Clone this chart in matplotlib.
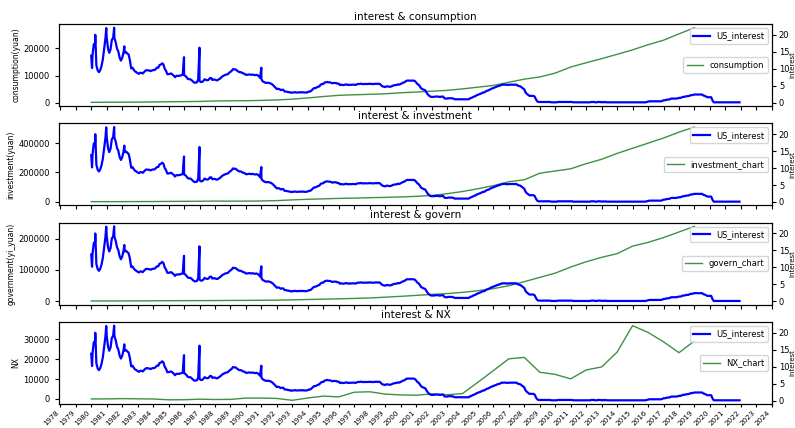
import matplotlib.pyplot as plt
import matplotlib.dates as mdates
from matplotlib.ticker import MultipleLocator
import pandas as pd

# annual China series (yuan / yi yuan), 1980..2019
years = list(range(1980, 2020))
consumption = [238, 264, 288, 316, 361, 446, 497, 565, 714, 788,
               833, 932, 1116, 1393, 1833, 2355, 2789, 3002, 3159, 3346,
               3721, 3987, 4301, 4606, 5138, 5771, 6416, 7572, 8707, 9514,
               10919, 13134, 14699, 16190, 17778, 19397, 21285, 22935, 25245, 27504]
investment = [900, 960, 1200, 1400, 1800, 2500, 3100, 3800, 4700, 4400,
              4500, 5600, 8000, 13000, 17000, 20000, 23000, 25000, 28000, 30000,
              33000, 37000, 43000, 55000, 70000, 89000, 110000, 137000, 150000, 195000,
              210000, 225000, 260000, 290000, 330000, 365000, 400000, 435000, 475000, 510000]
govern = [1229, 1138, 1230, 1410, 1701, 2004, 2205, 2262, 2491, 2824,
          3084, 3387, 3742, 4642, 5793, 6824, 7938, 9234, 10798, 13188,
          15887, 18903, 22053, 24650, 28487, 33930, 40423, 49781, 62593, 76300,
          89874, 109248, 125953, 140212, 151786, 175878, 187755, 203085, 220904, 238858]
nx = [-19, 0, 148, 52, -40, -449, -416, -142, -288, -243,
      411, 428, 233, -701, 461, 1403, 1019, 3354, 3597, 2423,
      1996, 1865, 2518, 2092, 2668, 8374, 14218, 20171, 20868, 13411,
      12323, 10079, 14558, 16094, 23526, 36831, 33452, 28716, 23248, 29150]

# US interest rate, monthly, 1980-01 .. 2021-12
us_interest = [
    13.8, 14.1, 17.2, 17.6, 11.0, 9.5, 9.0, 9.6, 10.9, 12.8, 15.9, 18.9,   # 1980
    19.1, 15.9, 14.7, 15.7, 18.5, 19.1, 19.0, 17.8, 15.9, 15.1, 13.3, 12.4,  # 1981
    13.2, 14.8, 14.7, 14.9, 14.5, 14.2, 12.6, 10.1, 10.3, 9.7, 9.2, 9.0,     # 1982
    8.7, 8.5, 8.8, 8.8, 8.6, 9.0, 9.4, 9.6, 9.5, 9.5, 9.3, 9.5,              # 1983
    9.6, 9.6, 9.9, 10.3, 10.3, 11.1, 11.2, 11.6, 11.3, 10.0, 9.4, 8.4,       # 1984
    8.4, 8.5, 8.6, 8.3, 8.0, 7.5, 7.9, 7.9, 7.9, 8.0, 8.1, 8.3,              # 1985
    8.1, 7.9, 7.5, 7.0, 6.9, 6.9, 6.6, 6.2, 5.9, 5.9, 6.0, 6.9,              # 1986
    6.4, 6.1, 6.1, 6.4, 6.9, 6.7, 6.6, 6.7, 7.2, 7.3, 6.7, 6.8,              # 1987
    6.8, 6.6, 6.6, 6.9, 7.1, 7.5, 7.8, 8.0, 8.2, 8.3, 8.4, 8.8,              # 1988
    9.1, 9.4, 9.9, 9.8, 9.8, 9.5, 9.2, 9.0, 9.0, 8.8, 8.6, 8.5,              # 1989
    8.2, 8.2, 8.3, 8.3, 8.2, 8.3, 8.2, 8.1, 8.2, 8.1, 7.8, 7.3,              # 1990
    6.9, 6.3, 6.1, 5.9, 5.8, 5.9, 5.8, 5.7, 5.5, 5.2, 4.8, 4.4,              # 1991
    4.0, 4.1, 4.0, 3.7, 3.8, 3.8, 3.3, 3.3, 3.2, 3.1, 3.1, 2.9,              # 1992
    3.0, 3.0, 3.1, 3.0, 3.0, 3.0, 3.1, 3.0, 3.1, 3.0, 3.0, 3.0,              # 1993
    3.1, 3.3, 3.3, 3.6, 4.0, 4.3, 4.3, 4.5, 4.7, 4.8, 5.3, 5.5,              # 1994
    5.5, 5.9, 6.0, 6.1, 6.0, 6.0, 5.9, 5.7, 5.8, 5.8, 5.8, 5.6,              # 1995
    5.6, 5.2, 5.3, 5.2, 5.2, 5.3, 5.4, 5.2, 5.3, 5.2, 5.3, 5.3,              # 1996
    5.3, 5.2, 5.4, 5.5, 5.5, 5.6, 5.5, 5.5, 5.5, 5.5, 5.5, 5.5,              # 1997
    5.6, 5.5, 5.5, 5.5, 5.5, 5.6, 5.5, 5.6, 5.5, 5.1, 4.8, 4.7,              # 1998
    4.6, 4.8, 4.8, 4.7, 4.7, 4.8, 5.0, 5.1, 5.2, 5.2, 5.4, 5.3,              # 1999
    5.5, 5.7, 5.9, 6.0, 6.3, 6.5, 6.5, 6.5, 6.5, 6.5, 6.5, 6.4,              # 2000
    6.0, 5.5, 5.3, 4.8, 4.2, 4.0, 3.8, 3.7, 3.1, 2.5, 2.1, 1.8,              # 2001
    1.7, 1.7, 1.7, 1.8, 1.8, 1.8, 1.7, 1.7, 1.8, 1.8, 1.3, 1.2,              # 2002
    1.2, 1.3, 1.3, 1.3, 1.3, 1.2, 1.0, 1.0, 1.0, 1.0, 1.0, 1.0,              # 2003
    1.0, 1.0, 1.0, 1.0, 1.0, 1.0, 1.3, 1.4, 1.6, 1.8, 1.9, 2.2,              # 2004
    2.3, 2.5, 2.6, 2.8, 3.0, 3.0, 3.3, 3.5, 3.6, 3.8, 4.0, 4.2,              # 2005
    4.3, 4.5, 4.6, 4.8, 4.9, 5.0, 5.2, 5.3, 5.3, 5.3, 5.3, 5.2,              # 2006
    5.3, 5.3, 5.3, 5.3, 5.3, 5.3, 5.3, 5.0, 4.9, 4.8, 4.5, 4.2,              # 2007
    3.9, 3.0, 2.6, 2.3, 2.0, 2.0, 2.0, 2.0, 1.8, 1.0, 0.4, 0.2,              # 2008
    0.2, 0.2, 0.2, 0.2, 0.2, 0.2, 0.2, 0.2, 0.2, 0.1, 0.1, 0.1,              # 2009
    0.1, 0.1, 0.2, 0.2, 0.2, 0.2, 0.2, 0.2, 0.2, 0.2, 0.2, 0.2,              # 2010
    0.2, 0.2, 0.1, 0.1, 0.1, 0.1, 0.1, 0.1, 0.1, 0.1, 0.1, 0.1,              # 2011
    0.1, 0.1, 0.1, 0.1, 0.2, 0.2, 0.2, 0.1, 0.1, 0.2, 0.2, 0.2,              # 2012
    0.1, 0.2, 0.1, 0.2, 0.1, 0.1, 0.1, 0.1, 0.1, 0.1, 0.1, 0.1,              # 2013
    0.1, 0.1, 0.1, 0.1, 0.1, 0.1, 0.1, 0.1, 0.1, 0.1, 0.1, 0.1,              # 2014
    0.1, 0.1, 0.1, 0.1, 0.1, 0.1, 0.1, 0.1, 0.1, 0.1, 0.1, 0.2,              # 2015
    0.3, 0.4, 0.4, 0.4, 0.4, 0.4, 0.4, 0.4, 0.4, 0.4, 0.4, 0.5,              # 2016
    0.7, 0.7, 0.8, 0.9, 0.9, 1.0, 1.2, 1.2, 1.2, 1.2, 1.2, 1.3,              # 2017
    1.4, 1.4, 1.5, 1.7, 1.7, 1.8, 1.9, 1.9, 2.0, 2.2, 2.2, 2.3,              # 2018
    2.4, 2.4, 2.4, 2.4, 2.4, 2.4, 2.4, 2.1, 2.0, 1.8, 1.6, 1.6,              # 2019
    1.6, 1.6, 0.7, 0.1, 0.1, 0.1, 0.1, 0.1, 0.1, 0.1, 0.1, 0.1,              # 2020
    0.1, 0.1, 0.1, 0.1, 0.1, 0.1, 0.1, 0.1, 0.1, 0.1, 0.1, 0.1,              # 2021
]
# single-day highs / lows visible in the daily series
spike_dates = ['1980-01-20', '1980-04-05', '1980-12-20', '1981-06-25', '1982-02-20',
               '1985-12-31', '1986-12-31', '1990-12-31']
spike_values = [10.2, 20.0, 22.0, 22.1, 16.6,
                13.4, 16.2, 10.3]

green = '#3f9142'

year_dates = pd.to_datetime([f'{y}-01-01' for y in years])
rate = pd.Series(us_interest, index=pd.date_range('1980-01-01', periods=len(us_interest), freq='MS'))
rate = pd.concat([rate, pd.Series(spike_values, index=pd.to_datetime(spike_dates))]).sort_index()

panels = [
    (consumption, 'consumption', 'consumption(yuan)', 'interest & consumption', 10000),
    (investment, 'investment_chart', 'investment(yuan)', 'interest & investment', 200000),
    (govern, 'govern_chart', 'government(yi_yuan)', 'interest & govern', 100000),
    (nx, 'NX_chart', 'NX', 'interest & NX', 10000),
]

fig, axes = plt.subplots(4, 1, figsize=(7.95, 4.28), dpi=100, sharex=True)
fig.subplots_adjust(left=0.074, right=0.971, top=0.944, bottom=0.056, hspace=0.21)

for ax, (vals, name, ylabel, title, step) in zip(axes, panels):
    ax.plot(year_dates, vals, color=green, lw=1, label=name)
    ax.set_ylabel(ylabel, fontsize=5.5, labelpad=2)
    ax.set_title(title, fontsize=7.5, pad=3)
    ax.yaxis.set_major_locator(MultipleLocator(step))
    ax.tick_params(labelsize=6, length=3)
    ax.legend(loc='center right', fontsize=6)

    ax2 = ax.twinx()
    ax2.plot(rate.index, rate.values, color='blue', lw=1.6, label='US_interest')
    ax2.set_ylabel('interest', fontsize=5, labelpad=0)
    ax2.yaxis.set_major_locator(MultipleLocator(5))
    ax2.tick_params(labelsize=6, length=3, pad=2)
    ax2.legend(loc='upper right', fontsize=6)

axes[-1].xaxis.set_major_locator(mdates.YearLocator(1))
axes[-1].xaxis.set_major_formatter(mdates.DateFormatter('%Y'))
axes[-1].tick_params(axis='x', length=2.5, pad=1)
for lab in axes[-1].get_xticklabels():
    lab.set_rotation(45)
    lab.set_ha('right')
    lab.set_fontsize(5.2)

plt.savefig('out.png')
